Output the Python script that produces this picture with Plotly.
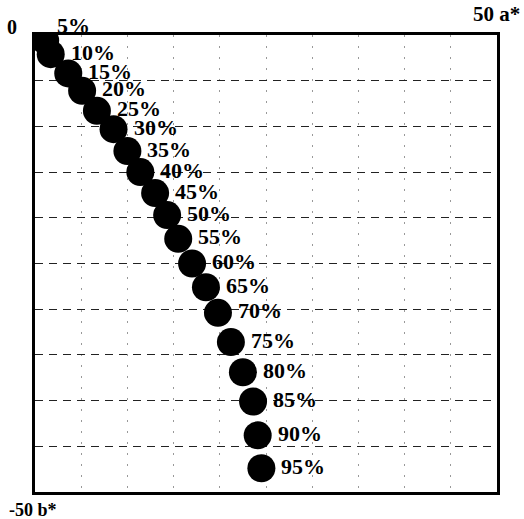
import plotly.graph_objects as go

# Data (a*, b*) for each percentage
labels = ["5%", "10%", "15%", "20%", "25%", "30%", "35%", "40%", "45%", "50%",
          "55%", "60%", "65%", "70%", "75%", "80%", "85%", "90%", "95%"]
a_star = [1.1, 1.7, 3.6, 5.1, 6.7, 8.5, 10.0, 11.4, 13.0, 14.3,
          15.5, 17.0, 18.5, 19.8, 21.2, 22.5, 23.6, 24.1, 24.5]
b_star = [-0.6, -2.1, -4.2, -6.1, -8.3, -10.3, -12.7, -15.0, -17.3, -19.7,
          -22.3, -25.0, -27.6, -30.4, -33.6, -36.9, -40.1, -43.8, -47.4]

corner_texts = ["0", "50 a*", "-50 b*"]

FONT = "Liberation Serif, Times New Roman, serif"

fig = go.Figure()
fig.add_trace(go.Scatter(
    x=a_star, y=b_star, mode="markers",
    marker=dict(size=28, color="black", line=dict(width=0)),
    cliponaxis=True, hoverinfo="skip", showlegend=False,
))

lab_font = dict(family=FONT, size=22, color="black", weight="bold")
for i, (lab, xa, yb) in enumerate(zip(labels, a_star, b_star)):
    if i == 0:
        xs, ys = 10, 15
    else:
        xs, ys = 18, 2
    fig.add_annotation(x=xa, y=yb, text=lab, showarrow=False,
                       xanchor="left", yanchor="middle", xshift=xs, yshift=ys,
                       font=lab_font)

fig.update_xaxes(range=[0, 50], tickvals=[5 * i for i in range(1, 10)],
                 showticklabels=False, ticks="", showgrid=True,
                 gridcolor="#999", gridwidth=1, griddash="2px,9px",
                 zeroline=False, showline=True, linecolor="black",
                 linewidth=3, mirror=True)
fig.update_yaxes(range=[-50, 0], tickvals=[-5 * i for i in range(1, 10)],
                 showticklabels=False, ticks="", showgrid=True,
                 gridcolor="#222", gridwidth=1, griddash="8px,6px",
                 zeroline=False, showline=True, linecolor="black",
                 linewidth=3, mirror=True)

fig.add_annotation(x=-0.05, y=1.018, xref="paper", yref="paper", text=corner_texts[0],
                   showarrow=False, xanchor="center", yanchor="middle",
                   font=dict(family=FONT, size=20, color="black", weight="bold"))
fig.add_annotation(x=1.054, y=1.046, xref="paper", yref="paper", text=corner_texts[1],
                   showarrow=False, xanchor="right", yanchor="middle",
                   font=dict(family=FONT, size=21, color="black", weight="bold"))
fig.add_annotation(x=-0.06, y=-0.039, xref="paper", yref="paper", text=corner_texts[2],
                   showarrow=False, xanchor="left", yanchor="middle",
                   font=dict(family=FONT, size=18, color="black", weight="bold"))

fig.update_layout(width=524, height=519,
                  margin=dict(l=35, r=27, t=35, b=27),
                  paper_bgcolor="white", plot_bgcolor="white")

fig.write_html("out.html", config={"displayModeBar": False},
               post_script="document.body.style.margin='0';document.body.style.overflow='hidden';")
